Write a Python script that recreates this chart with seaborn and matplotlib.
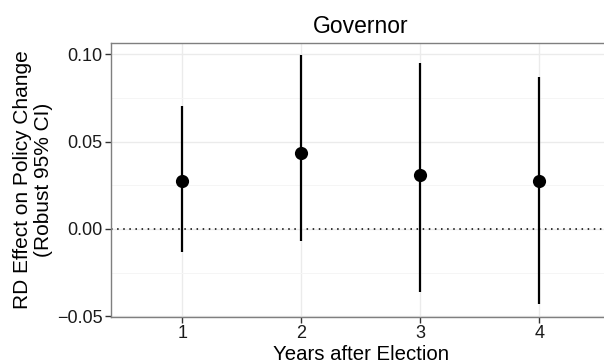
import matplotlib
matplotlib.use("Agg")
import matplotlib.pyplot as plt
import seaborn as sns
import numpy as np
import pandas as pd
from matplotlib.ticker import FixedLocator, FuncFormatter

# RD estimates with robust 95% confidence intervals, by years after the election
years = [1, 2, 3, 4]
estimate = [0.0273, 0.0434, 0.0307, 0.0275]
ci_low = [-0.0129, -0.0070, -0.0363, -0.0427]
ci_high = [0.0703, 0.0995, 0.0947, 0.0871]
y_ticks = [-0.05, 0.00, 0.05, 0.10]
y_minor = [-0.025, 0.025, 0.075]

df = pd.DataFrame({"year": years, "est": estimate, "lo": ci_low, "hi": ci_high})

sns.set_theme(style="white")
plt.rcParams["font.family"] = ["Liberation Sans", "DejaVu Sans"]

fig = plt.figure(figsize=(6.04, 3.64), dpi=100)
ax = fig.add_axes([110.7 / 604, 47.3 / 364, 500 / 604, 274 / 364])

# grid
ax.set_axisbelow(True)
ax.grid(which="major", color="#ebebeb", linewidth=1.0)
ax.grid(which="minor", axis="y", color="#f5f5f5", linewidth=0.7)

# zero reference line
ax.axhline(0, color="black", linestyle=(0, (1, 3)), linewidth=1.1, zorder=1)

# confidence intervals and point estimates
ax.vlines(df["year"], df["lo"], df["hi"], color="black", linewidth=1.6, zorder=2)
sns.scatterplot(data=df, x="year", y="est", ax=ax, color="black", s=90,
                edgecolor="black", linewidth=0, zorder=3, legend=False)

# scales (discrete-style padding on x)
ax.set_xlim(0.4, 4.6)
ax.set_ylim(-0.0502, 0.1066)

ax.xaxis.set_major_locator(FixedLocator(years))
ax.yaxis.set_major_locator(FixedLocator(y_ticks))
ax.yaxis.set_minor_locator(FixedLocator(y_minor))
ax.xaxis.set_major_formatter(FuncFormatter(lambda v, p: f"{int(v)}"))
ax.yaxis.set_major_formatter(FuncFormatter(lambda v, p: f"{v:.2f}".replace("-", "\u2212")))

ax.tick_params(axis="both", which="major", direction="out", length=4, width=1,
               color="#333333", labelsize=13, labelcolor="#1a1a1a", pad=2,
               bottom=True, left=True)
ax.tick_params(axis="y", which="minor", length=0)

for sp in ax.spines.values():
    sp.set_color("#7f7f7f")
    sp.set_linewidth(1.0)
    sp.set_visible(True)

ax.set_xlabel("Years after Election", fontsize=14.7, color="black", labelpad=2)
ax.set_ylabel("RD Effect on Policy Change\n(Robust 95% CI)", fontsize=15,
              color="black", labelpad=3, linespacing=1.1)
ax.set_title("Governor", fontsize=16.5, color="black", pad=7)

fig.savefig("out.png", dpi=100)
